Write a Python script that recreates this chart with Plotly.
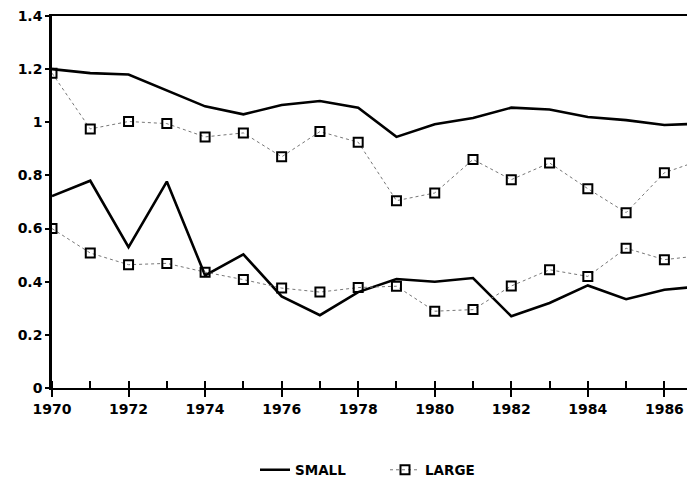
import plotly.graph_objects as go

years = list(range(1970, 1988))

small_upper = [1.20, 1.185, 1.18, 1.12, 1.06, 1.03, 1.065, 1.08, 1.055, 0.945,
               0.993, 1.016, 1.055, 1.048, 1.02, 1.008, 0.99, 0.995]
large_upper = [1.185, 0.975, 1.003, 0.995, 0.945, 0.96, 0.87, 0.965, 0.925, 0.705,
               0.734, 0.86, 0.784, 0.847, 0.75, 0.66, 0.81, 0.86]
small_lower = [0.722, 0.78, 0.53, 0.777, 0.424, 0.503, 0.345, 0.274, 0.361, 0.41,
               0.40, 0.414, 0.27, 0.32, 0.386, 0.334, 0.37, 0.383]
large_lower = [0.60, 0.508, 0.464, 0.469, 0.436, 0.408, 0.376, 0.361, 0.378, 0.383,
               0.289, 0.295, 0.384, 0.445, 0.42, 0.526, 0.483, 0.499]

x_ticks = list(range(1970, 1988, 2))
y_ticks = [0, 0.2, 0.4, 0.6, 0.8, 1.0, 1.2, 1.4]
y_labels = ["0", "0.2", "0.4", "0.6", "0.8", "1", "1.2", "1.4"]

solid = dict(color="black", width=2.6)
dotted = dict(color="#777777", width=1, dash="dot")
marker = dict(symbol="square-open", size=9, color="black", line=dict(width=2, color="black"))

fig = go.Figure()
fig.add_trace(go.Scatter(x=years, y=small_upper, mode="lines", line=solid,
                         name="SMALL", legendgroup="s", legend="legend"))
fig.add_trace(go.Scatter(x=years, y=small_lower, mode="lines", line=solid,
                         name="SMALL", legendgroup="s", showlegend=False))
fig.add_trace(go.Scatter(x=years, y=large_upper, mode="lines+markers", line=dotted,
                         marker=marker, name="LARGE", legendgroup="l", legend="legend2"))
fig.add_trace(go.Scatter(x=years, y=large_lower, mode="lines+markers", line=dotted,
                         marker=marker, name="LARGE", legendgroup="l", showlegend=False))

tick_font = dict(family="DejaVu Sans", size=14, color="black", weight="bold")
leg_font = dict(family="DejaVu Sans", size=13.5, color="black", weight="bold")

W, H = 687, 478  # page body has an 8px offset

fig.update_layout(
    width=W, height=H,
    margin=dict(l=44, r=0, t=8, b=98, autoexpand=False),
    paper_bgcolor="white", plot_bgcolor="white",
    showlegend=True,
    legend=dict(orientation="h", xref="container", yref="container",
                x=247 / W, y=16 / H, xanchor="left", yanchor="middle",
                font=leg_font, itemwidth=30, bgcolor="rgba(0,0,0,0)"),
    legend2=dict(orientation="h", xref="container", yref="container",
                 x=377 / W, y=16 / H, xanchor="left", yanchor="middle",
                 font=leg_font, itemwidth=30, bgcolor="rgba(0,0,0,0)"),
    xaxis=dict(range=[1970, 1986.8], tickvals=x_ticks, ticktext=[str(v) for v in x_ticks],
               showgrid=False, zeroline=False, showline=True, linecolor="black",
               linewidth=2, mirror=True, ticks="outside", ticklen=7, tickwidth=2,
               tickcolor="black", tickfont=tick_font, ticklabeloverflow="allow",
               minor=dict(dtick=1, tick0=1970, ticks="inside", ticklen=7,
                          tickwidth=2, tickcolor="black", showgrid=False)),
    yaxis=dict(range=[0, 1.4], tickvals=y_ticks, ticktext=y_labels,
               showgrid=False, zeroline=False, showline=True, linecolor="black",
               linewidth=2.5, ticks="outside", ticklen=4, tickwidth=1.5,
               tickcolor="black", tickfont=tick_font, ticklabeloverflow="allow"),
)

fig.write_html("out.html")
